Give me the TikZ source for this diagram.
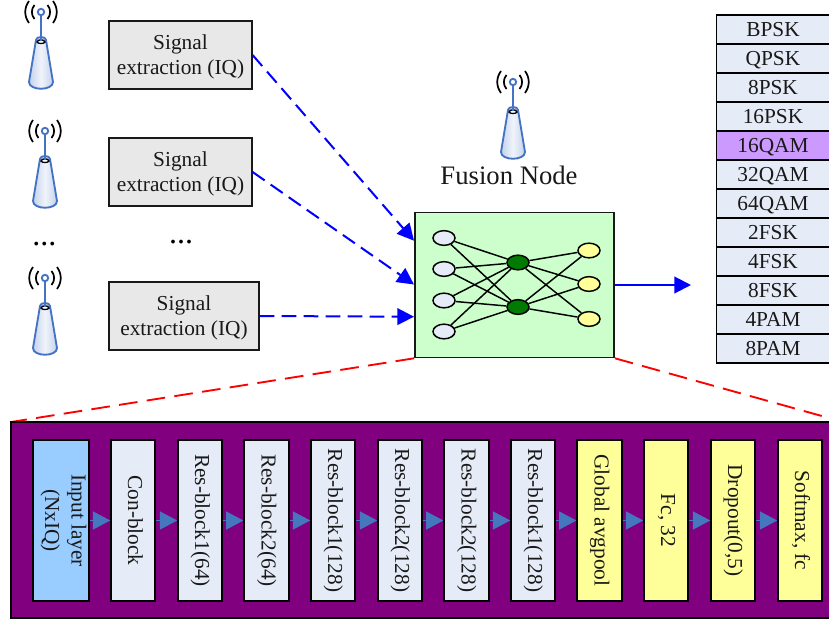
\documentclass[tikz,border=0pt]{standalone}
\usepackage{fontspec}
\setmainfont{Liberation Serif}
\usetikzlibrary{arrows.meta,shapes.geometric}
\definecolor{antblue}{HTML}{4472C4}
\definecolor{flowblue}{HTML}{4577BE}
\definecolor{sigfill}{HTML}{E8E8E8}
\definecolor{nnfill}{HTML}{CCFFCC}
\definecolor{lightblk}{HTML}{E6ECF7}
\definecolor{pale}{HTML}{FFFF99}
\definecolor{hidgreen}{HTML}{007A00}
\definecolor{lilac}{HTML}{CC99FF}
\definecolor{inblue}{HTML}{99CCFF}
\definecolor{deep}{HTML}{800080}
\tikzset{
  x=0.75pt,y=-0.75pt,
  txt/.style={font=\fontsize{16}{19}\selectfont,align=center,text=black!90},
  sigbox/.style={draw=black!90,line width=0.9pt,fill=sigfill,minimum height=51pt,inner sep=0pt},
  sigtxt/.style={txt,yshift=-1.6pt},
  cls/.style={draw=black,line width=1.2pt,fill=lightblk,minimum width=84.75pt,minimum height=21.75pt,inner sep=0pt,txt,text height=11.5pt,text depth=1.5pt},
  blk/.style={draw=black,line width=1.1pt,fill=lightblk,minimum height=120.75pt,inner sep=0pt},
  blktxt/.style={txt,rotate=-90,text height=10pt,text depth=2.5pt},
  twotxt/.style={txt,rotate=-90,font=\fontsize{16}{20}\selectfont},
  dotstxt/.style={font=\fontsize{24}{28}\selectfont,anchor=base,text=black,inner sep=0pt},
  innode/.style={ellipse,draw=black,line width=1.1pt,fill=lightblk,minimum width=16.5pt,minimum height=11pt,inner sep=0pt},
  hidnode/.style={innode,fill=hidgreen},
  outnode/.style={innode,fill=pale},
  link/.style={draw=black,line width=1.1pt},
  feed/.style={draw=blue,line width=1.5pt,dash pattern=on 11pt off 5.5pt,-{Triangle[length=12.5pt,width=12.5pt]}},
  solidfeed/.style={draw=blue,line width=1.5pt,-{Triangle[length=12.5pt,width=12.5pt]}},
  flow/.style={draw=flowblue,line width=1.2pt,-{Triangle[length=13pt,width=13.5pt]}},
  zoomline/.style={draw=red,line width=1.4pt,dash pattern=on 14pt off 7pt},
  pics/antenna/.style={code={
    \draw[line width=1.4pt,draw=antblue,left color=antblue!32,right color=antblue!32,middle color=antblue!8]
      (-5,28) -- (-12,70) .. controls (-12,79) and (12,79) .. (12,70) -- (5,28) .. controls (5,24) and (-5,24) .. (-5,28) -- cycle;
    \draw[line width=1pt,draw=black,fill=white] (-4,30) .. controls (-3,27) and (3,27) .. (4,30) .. controls (3,32) and (-3,32) .. (-4,30) -- cycle;
    \draw[line width=1.6pt,draw=antblue] (0,3) -- (0,29);
    \draw[line width=1.4pt,draw=antblue,fill=white] (0,0) circle (3.2);
    \draw[line width=1.3pt,draw=black]
      (-6.5,-7) .. controls (-10,-3) and (-10,3) .. (-6.5,7)
      (6.5,-7) .. controls (10,-3) and (10,3) .. (6.5,7)
      (-12,-11) .. controls (-17,-4) and (-17,4) .. (-12,11)
      (12,-11) .. controls (17,-4) and (17,4) .. (12,11);
  }}
}
\begin{document}
\begin{tikzpicture}
\useasboundingbox (0,0) rectangle (829,621);
% antennas
\pic (ant1) at (41,12) {antenna};
\pic (ant2) at (45,131) {antenna};
\pic (ant3) at (45,278) {antenna};
\pic (ant4) at (513,82) {antenna};
\node[txt,font=\fontsize{20}{24}\selectfont] (fusionlabel) at (509,175) {Fusion Node};
% signal boxes
\node[sigbox,minimum width=107.25pt] (s1) at (180.5,55) {};
\node[sigbox,minimum width=107.25pt] (s2) at (180.5,172) {};
\node[sigbox,minimum width=112.5pt] (s3) at (184,316) {};
\node[sigtxt] (st1) at (s1) {Signal\\extraction (IQ)};
\node[sigtxt] (st2) at (s2) {Signal\\extraction (IQ)};
\node[sigtxt] (st3) at (s3) {Signal\\extraction (IQ)};
\node[dotstxt] (dots1) at (44.5,245) {...};
\node[dotstxt] (dots2) at (181,243) {...};
% fusion box
\node[draw=black!90,line width=1.2pt,fill=nnfill,minimum width=149.5pt,minimum height=108.75pt,inner sep=0pt] (fusion) at (514.5,285) {};
\coordinate (e1) at (414,240.7);
\coordinate (e2) at (414,284.5);
\coordinate (e3) at (414,316.7);
\draw[feed] (s1.east) -- (e1);
\draw[feed] (s2.east) -- (e2);
\draw[feed] (s3.east) -- (e3);
% network
\node[innode] (i1) at (444,238) {};
\node[innode] (i2) at (444,269) {};
\node[innode] (i3) at (444,300.5) {};
\node[innode] (i4) at (444,331.5) {};
\node[hidnode] (h1) at (518,262.5) {};
\node[hidnode] (h2) at (518,307) {};
\node[outnode] (o1) at (589,250.5) {};
\node[outnode] (o2) at (589,284) {};
\node[outnode] (o3) at (589,319) {};
\foreach \a in {i1,i2,i3,i4}{\foreach \b in {h1,h2}{\draw[link] (\a) -- (\b);}}
\foreach \a in {h1,h2}{\foreach \b in {o1,o2,o3}{\draw[link] (\a) -- (\b);}}
% output list
\foreach \t [count=\i] in {BPSK,QPSK,8PSK,16PSK,16QAM,32QAM,64QAM,2FSK,4FSK,8FSK,4PAM,8PAM}{
  \ifnum\i=5\relax
    \node[cls,fill=lilac] (c\i) at (773,{15+29*(\i-0.5)}) {\t};
  \else
    \node[cls] (c\i) at (773,{15+29*(\i-0.5)}) {\t};
  \fi
}
\coordinate (outend) at (691,285);
\draw[solidfeed] (fusion.east) -- (outend);
% zoom lines
\coordinate (zl) at (11,422);
\coordinate (zr) at (829,418);
\draw[zoomline] (fusion.south west) -- (zl);
\draw[zoomline] (fusion.south east) -- (zr);
% purple panel
\begin{scope}
\clip (0,0) rectangle (829,621);
\node[draw=black,line width=1.2pt,fill=deep,minimum width=618pt,minimum height=147pt,inner sep=0pt] (panel) at (423,520) {};
\end{scope}
% blocks
\node[blk,fill=inblue,minimum width=42pt] (b1) at (61,520.5) {};
\node[blk,minimum width=33pt] (b2) at (133,520.5) {};
\node[blk,minimum width=33pt] (b3) at (200,520.5) {};
\node[blk,minimum width=33.5pt] (b4) at (266.5,520.5) {};
\node[blk,minimum width=33pt] (b5) at (333,520.5) {};
\node[blk,minimum width=33pt] (b6) at (400,520.5) {};
\node[blk,minimum width=33.5pt] (b7) at (466.5,520.5) {};
\node[blk,minimum width=33pt] (b8) at (533,520.5) {};
\node[blk,fill=pale,minimum width=33.5pt] (b9) at (599.5,520.5) {};
\node[blk,fill=pale,minimum width=33pt] (b10) at (666,520.5) {};
\node[blk,fill=pale,minimum width=33pt] (b11) at (733,520.5) {};
\node[blk,fill=pale,minimum width=33pt] (b12) at (800,520.5) {};
\node[twotxt] (t1) at (63.5,520.5) {Input layer\\(NxIQ)};
\node[blktxt] (t2) at (b2) {Con-block};
\node[blktxt] (t3) at (b3) {Res-block1(64)};
\node[blktxt] (t4) at (b4) {Res-block2(64)};
\node[blktxt] (t5) at (b5) {Res-block1(128)};
\node[blktxt] (t6) at (b6) {Res-block2(128)};
\node[blktxt] (t7) at (b7) {Res-block2(128)};
\node[blktxt] (t8) at (b8) {Res-block1(128)};
\node[blktxt] (t9) at (b9) {Global avgpool};
\node[blktxt] (t10) at (b10) {Fc, 32};
\node[blktxt] (t11) at (b11) {Dropout(0,5)};
\node[blktxt] (t12) at (b12) {Softmax, fc};
\foreach \a/\b in {b1/b2,b2/b3,b3/b4,b4/b5,b5/b6,b6/b7,b7/b8,b8/b9,b9/b10,b10/b11,b11/b12}{
  \draw[flow] (\a.east) -- (\b.west);
}
\end{tikzpicture}
\end{document}
